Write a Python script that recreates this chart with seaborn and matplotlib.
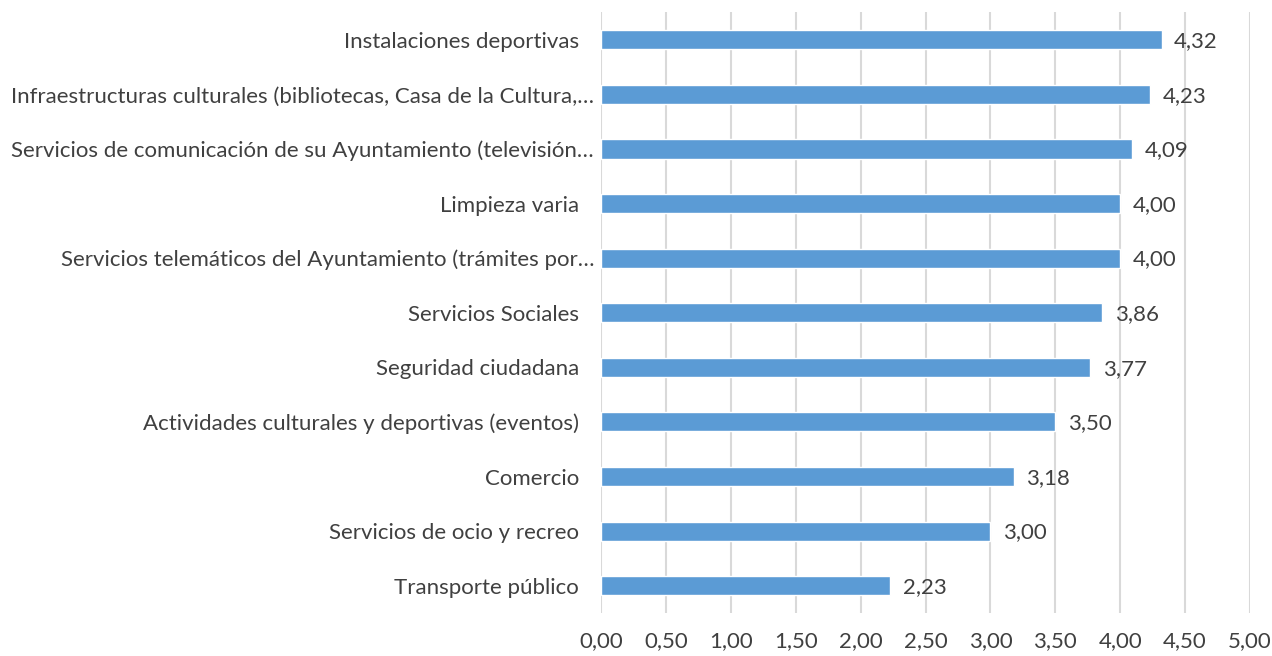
import matplotlib
matplotlib.use("Agg")
import matplotlib.pyplot as plt
import seaborn as sns
import pandas as pd
import numpy as np

categories = [
    "Instalaciones deportivas",
    "Infraestructuras culturales (bibliotecas, Casa de la Cultura,…",
    "Servicios de comunicación de su Ayuntamiento (televisión…",
    "Limpieza varia",
    "Servicios telemáticos del Ayuntamiento (trámites por…",
    "Servicios Sociales",
    "Seguridad ciudadana",
    "Actividades culturales y deportivas (eventos)",
    "Comercio",
    "Servicios de ocio y recreo",
    "Transporte público",
]
values = [4.32, 4.23, 4.09, 4.00, 4.00, 3.86, 3.77, 3.50, 3.18, 3.00, 2.23]
x_ticks = [0, 0.5, 1, 1.5, 2, 2.5, 3, 3.5, 4, 4.5, 5]

sns.set_theme(style="white")
plt.rcParams['font.family'] = ['Lato', 'DejaVu Sans']

df = pd.DataFrame({"cat": categories, "val": values})

fig = plt.figure(figsize=(12.72, 6.56), dpi=100)
ax = fig.add_axes([0.4725, 0.0655, 0.9827 - 0.4725, 0.981 - 0.0655])

sns.barplot(data=df, y="cat", x="val", orient="h", color="#5B9BD5",
            width=0.35, saturation=1, ax=ax, zorder=3)

ax.set_xlim(0, 5)
ax.set_ylim(len(categories) - 0.5, -0.5)
ax.set_xticks(x_ticks)
ax.set_xticklabels([f"{t:.2f}".replace(".", ",") for t in x_ticks])
ax.grid(axis="x", color="#D9D9D9", linewidth=1.5, zorder=0)
ax.grid(axis="y", visible=False)
for s in ax.spines.values():
    s.set_visible(False)
ax.set_xlabel("")
ax.set_ylabel("")
text_color = "#404040"
fs = 16
ax.tick_params(axis="x", length=0, pad=13, labelsize=fs, labelcolor=text_color)
ax.tick_params(axis="y", length=0, pad=16, labelsize=fs, labelcolor=text_color)
for i, tick in enumerate(ax.yaxis.get_major_ticks()):
    if categories[i].endswith("…"):
        tick.set_pad(5)

for i, v in enumerate(values):
    ax.annotate(f"{v:.2f}".replace(".", ","), xy=(v, i), xytext=(9, -1),
                textcoords="offset points", va="center", ha="left",
                fontsize=fs, color=text_color)

fig.savefig("out.png", dpi=100)
